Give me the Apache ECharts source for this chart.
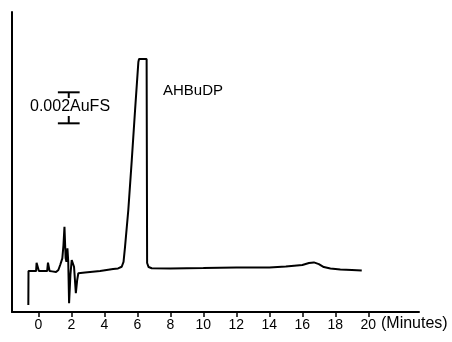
<!DOCTYPE html>
<html>
<head>
<meta charset="utf-8">
<script src="https://cdn.jsdelivr.net/npm/echarts@6/dist/echarts.min.js"></script>
<style>
  html, body { margin: 0; padding: 0; background: #fff; }
  #chart { width: 452px; height: 342px; }
</style>
</head>
<body>
<div id="chart"></div>
<script>
// retention time (minutes) and detector signal (mAU, 2 mAU = 0.002 AuFS)
const times = [
  -0.61, -0.60, -0.14, -0.11, 0.0, 0.03, 0.53, 0.58, 0.62, 0.68, 0.72, 0.83,
  1.07, 1.21, 1.32, 1.45, 1.52, 1.58, 1.65, 1.70, 1.76, 1.81, 1.86, 1.94,
  2.02, 2.10, 2.16, 2.27, 2.35, 2.42, 2.83, 3.74, 4.53, 4.83, 5.05, 5.16,
  5.25, 5.45, 5.66, 5.86, 6.06, 6.10, 6.56, 6.59, 6.68, 6.87, 8.0, 10.0,
  12.0, 14.0, 15.0, 16.0, 16.4, 16.7, 17.0, 17.3, 17.7, 18.3, 19.0, 19.6
];
const signal = [
  0.45, 2.64, 2.64, 3.18, 3.18, 2.64, 2.64, 3.18, 3.18, 2.64, 2.64, 2.62,
  2.58, 2.71, 3.03, 3.46, 4.32, 5.50, 3.48, 3.24, 4.11, 3.23, 0.56, 2.39,
  3.35, 3.23, 2.92, 1.21, 2.06, 2.50, 2.55, 2.64, 2.77, 2.81, 2.92, 3.23,
  4.19, 6.58, 9.80, 13.03, 16.13, 16.32, 16.32, 3.16, 2.90, 2.82, 2.81, 2.83,
  2.87, 2.87, 2.93, 3.03, 3.16, 3.20, 3.09, 2.90, 2.81, 2.74, 2.71, 2.67
];
const tickValues = [0, 2, 4, 6, 8, 10, 12, 14, 16, 18, 20];
// scale bar: centre time, lower and upper signal, half cap width (min)
const scaleBar = [1.84, 12.17, 14.17, 0.66];
const peakName = 'AHBuDP';
const scaleText = '0.002AuFS';
const unitText = '(Minutes)';

const FONT = '"Liberation Sans", Arial, Helvetica, sans-serif';
const chart = echarts.init(document.getElementById('chart'));

chart.setOption({
  animation: false,
  backgroundColor: '#fff',
  grid: { left: 12, right: 33, top: 12, bottom: 30 },
  xAxis: {
    type: 'value',
    min: -1.6,
    max: 23.07,
    splitLine: { show: false },
    axisLine: { onZero: false, lineStyle: { color: '#000', width: 2 } },
    axisTick: {
      customValues: tickValues,
      length: 5,
      lineStyle: { color: '#000', width: 1.5 }
    },
    axisLabel: {
      customValues: tickValues,
      margin: 6,
      color: '#000',
      fontSize: 14,
      fontFamily: FONT
    }
  },
  yAxis: {
    type: 'value',
    min: 0,
    max: 19.35,
    splitLine: { show: false },
    axisLine: { show: true, onZero: false, lineStyle: { color: '#000', width: 2 } },
    axisTick: { show: false },
    axisLabel: { show: false }
  },
  series: [
    {
      type: 'line',
      data: times.map((t, i) => [t, signal[i]]),
      symbol: 'none',
      lineStyle: { color: '#000', width: 2 },
      z: 3
    },
    {
      type: 'custom',
      data: [scaleBar],
      renderItem: (params, api) => {
        const x = api.value(0), lo = api.value(1), hi = api.value(2), w = api.value(3);
        const top = api.coord([x, hi]);
        const bot = api.coord([x, lo]);
        const tl = api.coord([x - w, hi]);
        const tr = api.coord([x + w, hi]);
        const bl = api.coord([x - w, lo]);
        const br = api.coord([x + w, lo]);
        const st = { stroke: '#000', lineWidth: 2 };
        return {
          type: 'group',
          children: [
            { type: 'line', shape: { x1: top[0], y1: top[1], x2: bot[0], y2: bot[1] }, style: st },
            { type: 'line', shape: { x1: tl[0], y1: tl[1], x2: tr[0], y2: tr[1] }, style: st },
            { type: 'line', shape: { x1: bl[0], y1: bl[1], x2: br[0], y2: br[1] }, style: st }
          ]
        };
      },
      z: 2
    }
  ],
  graphic: [
    {
      type: 'text', left: 30, top: 98, z: 10,
      style: {
        text: scaleText, fill: '#000', font: '16px ' + FONT,
        backgroundColor: '#fff', padding: [1, 0, 1, 0]
      }
    },
    {
      type: 'text', left: 163, top: 83, z: 10,
      style: { text: peakName, fill: '#000', font: '15px ' + FONT }
    },
    {
      type: 'text', left: 381, top: 316, z: 10,
      style: { text: unitText, fill: '#000', font: '16px ' + FONT }
    }
  ]
});
</script>
</body>
</html>
